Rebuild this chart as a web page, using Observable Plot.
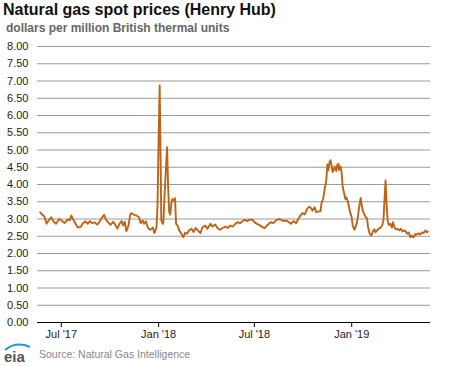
<!DOCTYPE html>
<html>
<head>
<meta charset="utf-8">
<script src="https://cdn.jsdelivr.net/npm/d3@7"></script>
<script src="https://cdn.jsdelivr.net/npm/@observablehq/plot@0.6"></script>
<style>
  html, body { margin: 0; padding: 0; background: #fff; }
  body { width: 468px; height: 366px; overflow: hidden; font-family: "Liberation Sans", Arial, sans-serif; }
  #head { height: 38px; }
  #title { font-size: 16px; font-weight: bold; color: #111; line-height: 20px; padding-left: 3px; white-space: nowrap; }
  #subtitle { font-size: 12px; font-weight: bold; color: #666; line-height: 16px; padding-left: 6px; white-space: nowrap; }
  #chart svg { display: block; }
  #foot { position: relative; height: 26px; }
  #source { position: absolute; left: 39px; top: 8px; font-size: 10.5px; color: #888; white-space: nowrap; }
  #logo { position: absolute; left: 2px; top: 1px; }
</style>
</head>
<body>
<div id="head">
  <div id="title">Natural gas spot prices (Henry Hub)</div>
  <div id="subtitle">dollars per million British thermal units</div>
</div>
<div id="chart"></div>
<div id="foot">
  <svg id="logo" width="32" height="24" viewBox="0 0 32 24">
    <path d="M3 9 Q 14 0 28 6" fill="none" stroke="#1a9ad6" stroke-width="2"/>
    <text x="2" y="21" font-family="Liberation Sans, Arial, sans-serif" font-size="15" font-weight="bold" fill="#555">eia</text>
  </svg>
  <div id="source">Source: Natural Gas Intelligence</div>
</div>
<script>
// Henry Hub spot price readings (dollars per MMBtu)
const dates = [
  "2017-05-22","2017-05-26","2017-05-30","2017-06-03","2017-06-07","2017-06-12","2017-06-17","2017-06-21","2017-06-27",
  "2017-07-03","2017-07-07","2017-07-13","2017-07-17","2017-07-20","2017-07-23","2017-07-28","2017-08-01","2017-08-06",
  "2017-08-11","2017-08-16","2017-08-20","2017-08-24","2017-08-28","2017-09-02","2017-09-07","2017-09-11","2017-09-15",
  "2017-09-20","2017-09-23","2017-09-27","2017-10-02","2017-10-07","2017-10-10","2017-10-15","2017-10-19","2017-10-23",
  "2017-10-26","2017-10-29","2017-11-01","2017-11-05","2017-11-08","2017-11-10","2017-11-15","2017-11-20","2017-11-25",
  "2017-11-28","2017-12-02","2017-12-04","2017-12-08","2017-12-11","2017-12-13","2017-12-16","2017-12-21","2017-12-24",
  "2017-12-28","2017-12-30","2018-01-01","2018-01-03","2018-01-05","2018-01-06","2018-01-09","2018-01-10","2018-01-12",
  "2018-01-15","2018-01-17","2018-01-19","2018-01-21","2018-01-23","2018-01-25","2018-01-27","2018-01-30","2018-02-01",
  "2018-02-03","2018-02-06","2018-02-09","2018-02-13","2018-02-17","2018-02-20","2018-02-23","2018-02-28","2018-03-04",
  "2018-03-08","2018-03-12","2018-03-16","2018-03-21","2018-03-25","2018-03-30","2018-04-03","2018-04-09","2018-04-13",
  "2018-04-18","2018-04-22","2018-04-27","2018-05-02","2018-05-07","2018-05-12","2018-05-16","2018-05-21","2018-05-26",
  "2018-05-31","2018-06-04","2018-06-09","2018-06-13","2018-06-17","2018-06-22","2018-06-27","2018-07-01","2018-07-06",
  "2018-07-10","2018-07-15","2018-07-20","2018-07-23","2018-07-28","2018-08-02","2018-08-06","2018-08-11","2018-08-16",
  "2018-08-20","2018-08-25","2018-08-30","2018-09-04","2018-09-08","2018-09-13","2018-09-18","2018-09-22","2018-09-26",
  "2018-09-30","2018-10-04","2018-10-09","2018-10-13","2018-10-17","2018-10-19","2018-10-23","2018-10-26","2018-10-31",
  "2018-11-03","2018-11-05","2018-11-08","2018-11-11","2018-11-14","2018-11-16","2018-11-18","2018-11-20","2018-11-22",
  "2018-11-24","2018-11-26","2018-11-28","2018-11-30","2018-12-03","2018-12-05","2018-12-07","2018-12-08","2018-12-11",
  "2018-12-13","2018-12-15","2018-12-18","2018-12-20","2018-12-22","2018-12-25","2018-12-27","2018-12-29","2019-01-01",
  "2019-01-03","2019-01-06","2019-01-08","2019-01-11","2019-01-13","2019-01-16","2019-01-18","2019-01-20","2019-01-22",
  "2019-01-25","2019-01-27","2019-01-30","2019-02-01","2019-02-04","2019-02-07","2019-02-10","2019-02-13","2019-02-15",
  "2019-02-18","2019-02-21","2019-02-25","2019-02-28","2019-03-02","2019-03-04","2019-03-06","2019-03-08","2019-03-10",
  "2019-03-12","2019-03-15","2019-03-18","2019-03-20","2019-03-23","2019-03-25","2019-03-28","2019-04-01","2019-04-04",
  "2019-04-07","2019-04-10","2019-04-13","2019-04-16","2019-04-19","2019-04-22","2019-04-25","2019-04-28","2019-05-02",
  "2019-05-05","2019-05-08","2019-05-11","2019-05-14","2019-05-17","2019-05-20","2019-05-23","2019-05-25"
];
const prices = [
  3.19,3.13,3.07,2.86,2.96,3.05,2.91,2.86,3.00,
  2.94,2.88,2.98,2.96,3.10,3.00,2.86,2.76,2.76,
  2.88,2.93,2.86,2.94,2.88,2.90,2.84,2.91,3.02,
  3.12,3.00,2.91,2.83,2.92,2.86,2.72,2.86,2.94,
  2.81,2.92,2.65,2.81,3.10,3.17,3.13,3.10,3.05,
  2.88,2.96,2.86,2.93,2.78,2.72,2.69,2.75,2.59,
  2.76,3.44,5.37,6.87,4.41,2.96,2.86,2.90,3.63,
  4.50,5.08,3.92,3.20,3.13,3.44,3.58,3.54,3.60,
  2.86,2.81,2.67,2.57,2.47,2.60,2.57,2.67,2.72,
  2.62,2.74,2.67,2.59,2.76,2.81,2.72,2.86,2.78,
  2.84,2.74,2.69,2.74,2.78,2.74,2.81,2.78,2.86,
  2.91,2.88,2.94,2.98,2.94,2.98,2.98,2.91,2.86,
  2.83,2.78,2.73,2.78,2.86,2.91,2.88,2.96,3.00,
  2.98,2.94,2.96,2.91,2.86,2.94,2.88,3.00,3.10,
  3.17,3.13,3.30,3.36,3.30,3.24,3.34,3.20,3.22,
  3.22,3.46,3.58,3.87,4.12,4.58,4.41,4.65,4.70,
  4.55,4.36,4.42,4.52,4.39,4.58,4.60,4.42,4.52,
  4.36,3.92,3.73,3.58,3.63,3.49,3.34,3.20,3.05,
  2.81,2.69,2.74,2.91,3.10,3.44,3.61,3.39,3.24,
  3.13,3.07,3.01,2.76,2.57,2.52,2.64,2.70,2.61,
  2.67,2.72,2.75,2.83,2.96,3.54,4.12,3.44,2.96,
  2.83,2.86,2.75,2.91,2.75,2.70,2.72,2.67,2.72,
  2.64,2.67,2.64,2.57,2.61,2.47,2.52,2.47,2.57,
  2.55,2.59,2.55,2.61,2.59,2.67,2.61,2.64
];
const yTicks = [0,0.5,1,1.5,2,2.5,3,3.5,4,4.5,5,5.5,6,6.5,7,7.5,8];
const xTickDates = ["2017-07-01","2018-01-01","2018-07-01","2019-01-01"];
const xDomain = ["2017-05-17","2019-05-30"];

const data = dates.map((d, i) => ({date: new Date(d), price: prices[i]}));
const xTicks = xTickDates.map(d => new Date(d));
const fmtX = d3.utcFormat("%b '%y");

const chart = Plot.plot({
  width: 468,
  height: 302,
  marginLeft: 37,
  marginRight: 38,
  marginTop: 8,
  marginBottom: 18,
  style: {fontFamily: "Liberation Sans, Arial, sans-serif", fontSize: "11px", color: "#222", background: "#fff"},
  x: {type: "utc", domain: xDomain.map(d => new Date(d))},
  y: {domain: [0, 8]},
  marks: [
    Plot.ruleY(yTicks.filter(d => d > 0), {stroke: "#9a9a9a", strokeWidth: 1}),
    Plot.axisY(yTicks, {tickSize: 0, tickPadding: 9, tickFormat: d => d.toFixed(2), fill: "#222", fontSize: 11, label: null}),
    Plot.ruleY([0], {stroke: "#000", strokeWidth: 1}),
    Plot.axisX(xTicks, {tickSize: 5, tickPadding: 3, stroke: "#000", tickFormat: fmtX, fill: "#222", fontSize: 11, label: null}),
    Plot.lineY(data, {x: "date", y: "price", stroke: "#bc6418", strokeWidth: 1.9, strokeLinejoin: "round", curve: "linear"})
  ]
});
document.getElementById("chart").appendChild(chart);
</script>
</body>
</html>
